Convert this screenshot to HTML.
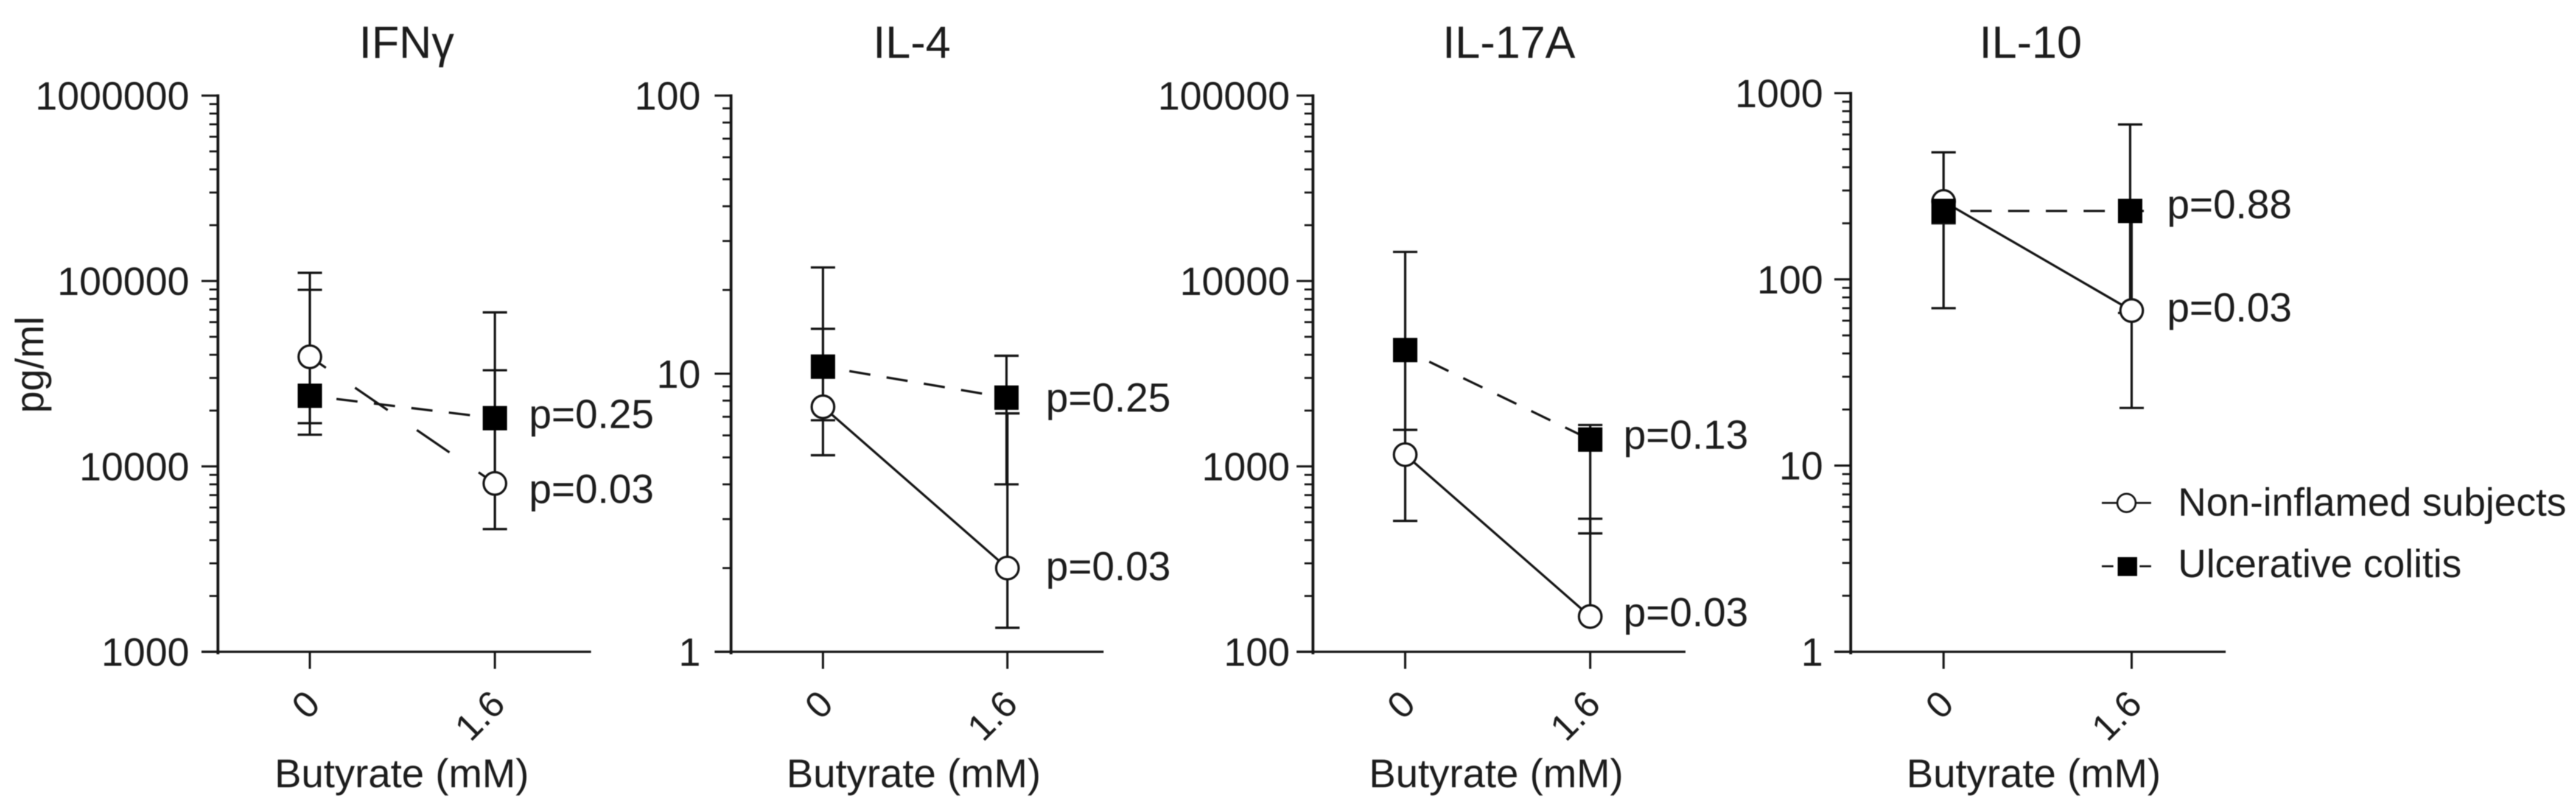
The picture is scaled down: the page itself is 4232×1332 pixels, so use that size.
<!DOCTYPE html>
<html lang="en">
<head>
<meta charset="utf-8">
<title>Cytokine response to butyrate</title>
<style>
html,body{margin:0;padding:0;background:#fff;}
svg{display:block;}
text{font-family:"Liberation Sans",sans-serif;fill:#1c1c1c;}
</style>
</head>
<body>
<svg id="chart" xmlns="http://www.w3.org/2000/svg" width="4232" height="1332" viewBox="0 0 4232 1332" style="filter:blur(0.9px)">
  <rect x="0" y="0" width="4232" height="1332" fill="#ffffff"></rect>
</svg>
<script>
// ----- categories and labels
const categories = ["0", "1.6"];
const panelTitles = ["IFN\u03B3", "IL-4", "IL-17A", "IL-10"];
const xAxisTitle = "Butyrate (mM)";
const yAxisTitle = "pg/ml";
const legendLabels = ["Non-inflamed subjects", "Ulcerative colitis"];

// ----- tick labels
const ifngTicks = [1000, 10000, 100000, 1000000];
const il4Ticks = [1, 10, 100];
const il17Ticks = [100, 1000, 10000, 100000];
const il10Ticks = [1, 10, 100, 1000];

// ----- IFN-gamma
const ifngNonInflamedMean = [39000, 8090];
const ifngNonInflamedUpper = [110700, 33000];
const ifngNonInflamedLower = [14820, 4590];
const ifngColitisMean = [24040, 18200];
const ifngColitisUpper = [89600, 67700];
const ifngColitisLower = [17100, 4590];
const ifngPValues = ["p=0.03", "p=0.25"];

// ----- IL-4
const il4NonInflamedMean = [7.6, 2.0];
const il4NonInflamedUpper = [14.5, 7.2];
const il4NonInflamedLower = [5.09, 1.22];
const il4ColitisMean = [10.6, 8.2];
const il4ColitisUpper = [24.1, 11.6];
const il4ColitisLower = [6.8, 4.0];
const il4PValues = ["p=0.03", "p=0.25"];

// ----- IL-17A
const il17NonInflamedMean = [1157, 155];
const il17NonInflamedUpper = [1574, 522];
const il17NonInflamedLower = [508, 155];
const il17ColitisMean = [4240, 1395];
const il17ColitisUpper = [14350, 1672];
const il17ColitisLower = [1574, 435];
const il17PValues = ["p=0.03", "p=0.13"];

// ----- IL-10
const il10NonInflamedMean = [262, 68];
const il10NonInflamedUpper = [481, 233];
const il10NonInflamedLower = [70, 20.4];
const il10ColitisMean = [233, 233];
const il10ColitisUpper = [260, 679];
const il10ColitisLower = [200, 66];
const il10PValues = ["p=0.03", "p=0.88"];

const NS = "http://www.w3.org/2000/svg";
const INK = "#141414";
const root = document.getElementById("chart");

function make(parent, tag, attrs, content) {
  const node = document.createElementNS(NS, tag);
  for (const key in attrs) node.setAttribute(key, attrs[key]);
  if (content !== undefined) node.textContent = content;
  parent.appendChild(node);
  return node;
}

function drawErrorBar(parent, x, yHigh, yLow) {
  const g = make(parent, "g", {});
  
  
  let el = make(g, "line", {x1: x, x2: x, y1: yHigh, y2: yLow, stroke: INK, "stroke-width": 3.8});
  
  
  el = make(g, "line", {x1: x - 20, x2: x + 20, y1: yHigh, y2: yHigh, stroke: INK, "stroke-width": 3.8});
  
  
  el = make(g, "line", {x1: x - 20, x2: x + 20, y1: yLow, y2: yLow, stroke: INK, "stroke-width": 3.8});
  
  
}

function drawPanel(p) {
  const panel = make(root, "g", {});
  
  

  const lo = Math.log10(p.ticks[0]);
  const hi = Math.log10(p.ticks[p.ticks.length - 1]);
  const yScale = v => p.bottom - (Math.log10(v) - lo) / (hi - lo) * (p.bottom - p.top);
  const xScale = i => p.x0 + i * (p.x1 - p.x0) / (categories.length - 1);
  const ucX = i => xScale(i) + (i === 1 ? p.ucShift : 0);

  // title
  let el = make(panel, "text", {x: p.titleX, y: 95, "font-size": 74, "text-anchor": "middle"}, p.title);
  
  

  // y axis
  const yAxis = make(panel, "g", {});
  
  
  el = make(yAxis, "line", {x1: p.axisX, x2: p.axisX, y1: p.top - 2, y2: p.bottom + 4, stroke: INK, "stroke-width": 4.6});
  
  
  for (let i = 0; i < p.ticks.length; i++) {
    const t = p.ticks[i];
    const y = yScale(t);
    el = make(yAxis, "line", {x1: p.axisX - 27, x2: p.axisX, y1: y, y2: y, stroke: INK, "stroke-width": 3.6});
    
    
    el = make(yAxis, "text", {x: p.labelRight, y: y + 23, "font-size": 65, "text-anchor": "end"}, String(t));
    
    
    if (i < p.ticks.length - 1) {
      for (let m = 2; m <= 9; m++) {
        const ym = yScale(t * m);
        el = make(yAxis, "line", {x1: p.axisX - 14, x2: p.axisX, y1: ym, y2: ym, stroke: INK, "stroke-width": 3.2});
        
        
      }
    }
  }

  // x axis
  const xAxis = make(panel, "g", {});
  
  
  el = make(xAxis, "line", {x1: p.axisX - 27, x2: p.xEnd, y1: p.bottom, y2: p.bottom, stroke: INK, "stroke-width": 3.8});
  
  
  categories.forEach((c, i) => {
    const x = xScale(i);
    let tick = make(xAxis, "line", {x1: x, x2: x, y1: p.bottom, y2: p.bottom + 28, stroke: INK, "stroke-width": 3.6});
    
    
    const px = x + 20, py = 1160;
    let label = make(xAxis, "text", {x: px, y: py, "font-size": 61, "text-anchor": "end", transform: "rotate(-45 " + px + " " + py + ")"}, c);
    
    
  });
  el = make(xAxis, "text", {x: p.xTitleX, y: 1293, "font-size": 66, "text-anchor": "middle"}, xAxisTitle);
  
  

  // error bars
  categories.forEach((c, i) => {
    drawErrorBar(panel, xScale(i), yScale(p.niUpper[i]), yScale(p.niLower[i]));
    drawErrorBar(panel, ucX(i), yScale(p.ucUpper[i]), yScale(p.ucLower[i]));
  });

  // series lines
  el = make(panel, "line", {
    x1: xScale(0), y1: yScale(p.niMean[0]), x2: xScale(1), y2: yScale(p.niMean[1]),
    stroke: INK, "stroke-width": 3.8,
    "stroke-dasharray": p.niDash, "stroke-dashoffset": p.niDashOffset
  });
  
  
  el = make(panel, "line", {
    x1: ucX(0), y1: yScale(p.ucMean[0]), x2: ucX(1), y2: yScale(p.ucMean[1]),
    stroke: INK, "stroke-width": 3.8, "stroke-dasharray": "35 27", "stroke-dashoffset": 18
  });
  
  

  // markers
  categories.forEach((c, i) => {
    const circle = make(panel, "circle", {cx: xScale(i), cy: yScale(p.niMean[i]), r: 18.5, fill: "#fff", stroke: INK, "stroke-width": 3.8});
    
    
  });
  categories.forEach((c, i) => {
    const square = make(panel, "rect", {x: ucX(i) - 20, y: yScale(p.ucMean[i]) - 20, width: 40, height: 40, fill: "#000"});
    
    
  });

  // p-value annotations
  el = make(panel, "text", {x: p.pX, y: yScale(p.niMean[1]) + p.pOffsets[0], "font-size": 66.5}, p.pValues[0]);
  
  
  el = make(panel, "text", {x: p.pX, y: yScale(p.ucMean[1]) + p.pOffsets[1], "font-size": 66.5}, p.pValues[1]);
  
  
}

drawPanel({
  name: "ifn-gamma-panel", title: panelTitles[0], ticks: ifngTicks,
  niMean: ifngNonInflamedMean, niUpper: ifngNonInflamedUpper, niLower: ifngNonInflamedLower,
  ucMean: ifngColitisMean, ucUpper: ifngColitisUpper, ucLower: ifngColitisLower, pValues: ifngPValues,
  top: 157, bottom: 1070.5, axisX: 358, xEnd: 971, x0: 509, x1: 813, labelRight: 311,
  titleX: 668, xTitleX: 660, pX: 869, pOffsets: [32, 16], ucShift: 0, niDash: "65 58", niDashOffset: 33
});
drawPanel({
  name: "il-4-panel", title: panelTitles[1], ticks: il4Ticks,
  niMean: il4NonInflamedMean, niUpper: il4NonInflamedUpper, niLower: il4NonInflamedLower,
  ucMean: il4ColitisMean, ucUpper: il4ColitisUpper, ucLower: il4ColitisLower, pValues: il4PValues,
  top: 157, bottom: 1070.5, axisX: 1201, xEnd: 1813, x0: 1352, x1: 1655, labelRight: 1151,
  titleX: 1498, xTitleX: 1501, pX: 1718, pOffsets: [20, 23], ucShift: -1.5, niDash: "none", niDashOffset: 0
});
drawPanel({
  name: "il-17a-panel", title: panelTitles[2], ticks: il17Ticks,
  niMean: il17NonInflamedMean, niUpper: il17NonInflamedUpper, niLower: il17NonInflamedLower,
  ucMean: il17ColitisMean, ucUpper: il17ColitisUpper, ucLower: il17ColitisLower, pValues: il17PValues,
  top: 157, bottom: 1070.5, axisX: 2157, xEnd: 2769, x0: 2308.5, x1: 2612.5, labelRight: 2119,
  titleX: 2479, xTitleX: 2458, pX: 2667, pOffsets: [16, 15], ucShift: 0, niDash: "none", niDashOffset: 0
});
drawPanel({
  name: "il-10-panel", title: panelTitles[3], ticks: il10Ticks,
  niMean: il10NonInflamedMean, niUpper: il10NonInflamedUpper, niLower: il10NonInflamedLower,
  ucMean: il10ColitisMean, ucUpper: il10ColitisUpper, ucLower: il10ColitisLower, pValues: il10PValues,
  top: 153, bottom: 1070.5, axisX: 3040.5, xEnd: 3656.5, x0: 3193, x1: 3502, labelRight: 2995,
  titleX: 3336, xTitleX: 3341, pX: 3560, pOffsets: [18, 12], ucShift: -2.5, niDash: "none", niDashOffset: 0
});

// shared y-axis title
let yTitle = make(root, "text", {x: 71, y: 599, "font-size": 65, "text-anchor": "middle", transform: "rotate(-90 71 599)"}, yAxisTitle);



// legend
const legend = make(root, "g", {});



const entryA = make(legend, "g", {});


let item = make(entryA, "line", {x1: 3453, x2: 3534, y1: 826, y2: 826, stroke: INK, "stroke-width": 3.2});


item = make(entryA, "circle", {cx: 3493.5, cy: 826, r: 15, fill: "#fff", stroke: INK, "stroke-width": 3.2});


item = make(entryA, "text", {x: 3578, y: 847, "font-size": 64.5}, legendLabels[0]);



const entryB = make(legend, "g", {});


item = make(entryB, "line", {x1: 3453, x2: 3534, y1: 930, y2: 930, stroke: INK, "stroke-width": 3.2, "stroke-dasharray": "19 43"});


item = make(entryB, "rect", {x: 3479, y: 915, width: 32, height: 31, fill: "#000"});


item = make(entryB, "text", {x: 3578, y: 948, "font-size": 64.5}, legendLabels[1]);


</script>
</body>
</html>
